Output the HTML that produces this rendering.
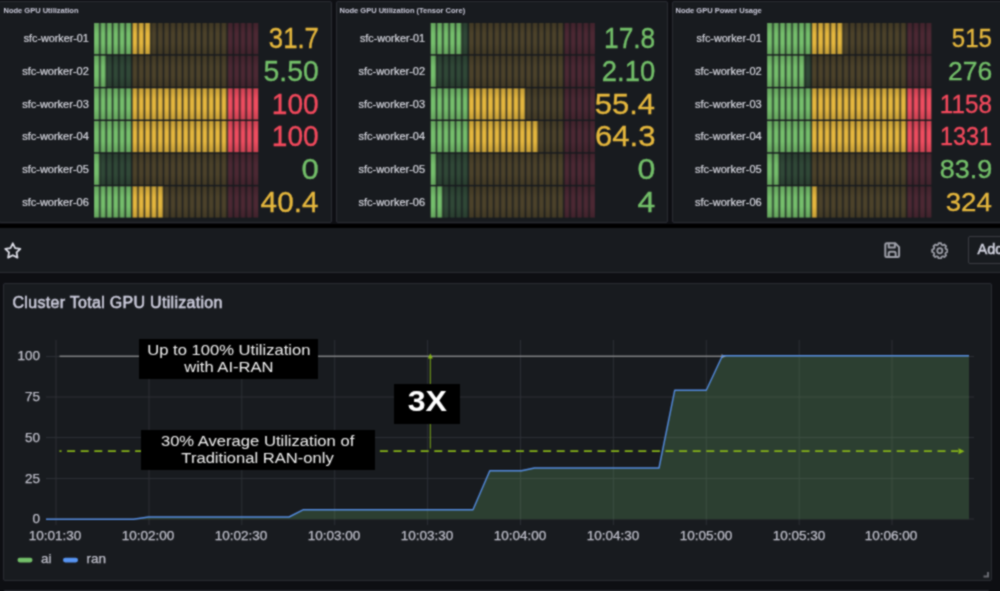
<!DOCTYPE html>
<html lang="en">
<head>
<meta charset="utf-8">
<title>GPU Utilization Dashboard</title>
<style>
*{box-sizing:border-box;margin:0;padding:0}
html,body{width:1000px;height:591px;overflow:hidden;background:#0e0f13;font-family:"Liberation Sans",sans-serif}
#root{position:relative;width:1000px;height:591px;overflow:hidden;background:#0e0f13;filter:url(#soft)}
.panel{position:absolute;background:#181b1f;border:1px solid #2a2c33;border-radius:2px}
.ptitle{position:absolute;left:3px;top:3.600px;font-size:7.5px;line-height:10px;font-weight:bold;color:#ccccdc;white-space:nowrap}
.lbl{position:absolute;left:0;height:31.3px;line-height:34px;font-size:10px;color:#d5d6de;text-align:right;white-space:nowrap;transform:scaleX(1.075);transform-origin:right center;-webkit-text-stroke:.2px #d5d6de}
.val{position:absolute;left:0;height:31.3px;line-height:34.4px;text-align:right;white-space:nowrap;transform-origin:right center;-webkit-text-stroke:.35px currentColor}
#band{position:absolute;left:0;top:223.600px;width:1000px;height:4.400px;background:#000}
#toolbar{position:absolute;left:0;top:228px;width:1000px;height:45px;background:#181b1f;border-bottom:1px solid #2a2c33}
#addbtn{position:absolute;left:968px;top:8.300px;width:60px;height:27.600px;border:1px solid #3a3c42;border-radius:2px;color:#d2d3e0;font-size:14.500px;-webkit-text-stroke:.5px #d2d3e0;line-height:25px;padding-left:8.500px}
.ann{position:absolute;background:#000;color:#f1f1f1;text-align:center;font-size:14px;line-height:17px;white-space:nowrap}
.ann span{display:inline-block;transform:scaleX(1.185)}
.ylab{position:absolute;left:0;width:40px;text-align:right;font-size:13.5px;line-height:14px;color:#c0c1cc;-webkit-text-stroke:.25px #c0c1cc}
.xlab{position:absolute;top:528.5px;width:80px;margin-left:-40px;text-align:center;font-size:13.5px;line-height:14px;color:#c0c1cc;-webkit-text-stroke:.25px #c0c1cc}
.leg{position:absolute;top:552.4px;font-size:13.5px;line-height:14px;color:#c0c1cc;-webkit-text-stroke:.25px #c0c1cc}
</style>
</head>
<body>
<svg width="0" height="0" style="position:absolute"><defs><filter id="soft" x="0" y="0" width="100%" height="100%" color-interpolation-filters="sRGB"><feConvolveMatrix order="3" kernelMatrix="1 2 1 2 6 2 1 2 1" divisor="18" edgeMode="duplicate" preserveAlpha="true"/></filter></defs></svg>
<div id="root">

<!-- top gauge panels -->
<div class="panel" style="left:-1px;top:1px;width:332.5px;height:222px">
<div class="ptitle" style="left:3.5px">Node GPU Utilization</div>
<div class="lbl" style="top:20.4px;width:88.8px">sfc-worker-01</div>
<div class="val" style="top:20.4px;width:318.86px;color:#e5b73d;font-size:29.3px;line-height:32.2px;transform:scaleX(0.877)">31.7</div>
<div class="lbl" style="top:53.07px;width:88.8px;transform:scaleX(1.1)">sfc-worker-02</div>
<div class="val" style="top:53.07px;width:318.7px;color:#73bf69;font-size:29.3px;line-height:32.2px;transform:scaleX(0.967)">5.50</div>
<div class="lbl" style="top:85.74px;width:88.8px;transform:scaleX(1.1)">sfc-worker-03</div>
<div class="val" style="top:85.74px;width:318.68px;color:#f2495c;font-size:29.3px;line-height:32.2px;transform:scaleX(0.959)">100</div>
<div class="lbl" style="top:118.41px;width:88.8px;transform:scaleX(1.1)">sfc-worker-04</div>
<div class="val" style="top:118.41px;width:318.68px;color:#f2495c;font-size:29.3px;line-height:32.2px;transform:scaleX(0.959)">100</div>
<div class="lbl" style="top:151.08px;width:88.8px;transform:scaleX(1.1)">sfc-worker-05</div>
<div class="val" style="top:151.08px;width:318.8px;color:#73bf69;font-size:29.3px;line-height:32.2px;transform:scaleX(1.059)">0</div>
<div class="lbl" style="top:183.75px;width:88.8px;transform:scaleX(1.1)">sfc-worker-06</div>
<div class="val" style="top:183.75px;width:318.46px;color:#e5b73d;font-size:29.3px;line-height:32.2px;transform:scaleX(1.014)">40.4</div>
</div>
<div class="panel" style="left:335.5px;top:1px;width:332px;height:222px">
<div class="ptitle">Node GPU Utilization (Tensor Core)</div>
<div class="lbl" style="top:20.4px;width:88.1px">sfc-worker-01</div>
<div class="val" style="top:20.4px;width:318.29px;color:#73bf69;font-size:29.3px;line-height:32.2px;transform:scaleX(0.899)">17.8</div>
<div class="lbl" style="top:53.07px;width:88.1px;transform:scaleX(1.1)">sfc-worker-02</div>
<div class="val" style="top:53.07px;width:318.27px;color:#73bf69;font-size:29.3px;line-height:32.2px;transform:scaleX(0.937)">2.10</div>
<div class="lbl" style="top:85.74px;width:88.1px;transform:scaleX(1.1)">sfc-worker-03</div>
<div class="val" style="top:85.74px;width:318.09px;color:#e5b73d;font-size:29.3px;line-height:32.2px;transform:scaleX(1.056)">55.4</div>
<div class="lbl" style="top:118.41px;width:88.1px;transform:scaleX(1.1)">sfc-worker-04</div>
<div class="val" style="top:118.41px;width:318.56px;color:#e5b73d;font-size:29.3px;line-height:32.2px;transform:scaleX(1.061)">64.3</div>
<div class="lbl" style="top:151.08px;width:88.1px;transform:scaleX(1.1)">sfc-worker-05</div>
<div class="val" style="top:151.08px;width:318.44px;color:#73bf69;font-size:29.3px;line-height:32.2px;transform:scaleX(1.095)">0</div>
<div class="lbl" style="top:183.75px;width:88.1px;transform:scaleX(1.1)">sfc-worker-06</div>
<div class="val" style="top:183.75px;width:318.11px;color:#73bf69;font-size:29.3px;line-height:32.2px;transform:scaleX(1.088)">4</div>
</div>
<div class="panel" style="left:671.5px;top:1px;width:332px;height:222px">
<div class="ptitle">Node GPU Power Usage</div>
<div class="lbl" style="top:20.4px;width:88.7px">sfc-worker-01</div>
<div class="val" style="top:20.4px;width:318.99px;color:#e5b73d;font-size:25.3px;line-height:33.4px;transform:scaleX(0.951)">515</div>
<div class="lbl" style="top:53.07px;width:88.7px;transform:scaleX(1.1)">sfc-worker-02</div>
<div class="val" style="top:53.07px;width:319.15px;color:#73bf69;font-size:25.3px;line-height:33.4px;transform:scaleX(1.046)">276</div>
<div class="lbl" style="top:85.74px;width:88.7px;transform:scaleX(1.1)">sfc-worker-03</div>
<div class="val" style="top:85.74px;width:318.98px;color:#f2495c;font-size:25.3px;line-height:33.4px;transform:scaleX(0.958)">1158</div>
<div class="lbl" style="top:118.41px;width:88.7px;transform:scaleX(1.1)">sfc-worker-04</div>
<div class="val" style="top:118.41px;width:319.17px;color:#f2495c;font-size:25.3px;line-height:33.4px;transform:scaleX(0.928)">1331</div>
<div class="lbl" style="top:151.08px;width:88.7px;transform:scaleX(1.1)">sfc-worker-05</div>
<div class="val" style="top:151.08px;width:319.25px;color:#73bf69;font-size:25.3px;line-height:33.4px;transform:scaleX(1.066)">83.9</div>
<div class="lbl" style="top:183.75px;width:88.7px;transform:scaleX(1.1)">sfc-worker-06</div>
<div class="val" style="top:183.75px;width:318.79px;color:#e5b73d;font-size:25.3px;line-height:33.4px;transform:scaleX(1.093)">324</div>
</div>

<svg style="position:absolute;left:0;top:0" width="1000" height="224" viewBox="0 0 1000 224">
<defs><linearGradient id="rs" x1="0" y1="0" x2="0" y2="1"><stop offset="0" stop-color="#000" stop-opacity=".14"/><stop offset=".35" stop-color="#000" stop-opacity="0"/><stop offset=".65" stop-color="#000" stop-opacity="0"/><stop offset="1" stop-color="#000" stop-opacity=".14"/></linearGradient></defs>
<rect x="94.1" y="23" width="38.16" height="31.2" fill="#75bf6c"/>
<rect x="132.26" y="23" width="19.08" height="31.2" fill="#e5b73e"/>
<rect x="151.34" y="23" width="76.32" height="31.2" fill="#4c422a"/>
<rect x="227.66" y="23" width="30.6" height="31.2" fill="#4c2833"/>
<rect x="94.1" y="55.67" width="12.72" height="31.2" fill="#75bf6c"/>
<rect x="106.82" y="55.67" width="25.44" height="31.2" fill="#304837"/>
<rect x="132.26" y="55.67" width="95.4" height="31.2" fill="#4c422a"/>
<rect x="227.66" y="55.67" width="30.6" height="31.2" fill="#4c2833"/>
<rect x="94.1" y="88.34" width="38.16" height="31.2" fill="#75bf6c"/>
<rect x="132.26" y="88.34" width="95.4" height="31.2" fill="#e5b73e"/>
<rect x="227.66" y="88.34" width="30.6" height="31.2" fill="#ee4c5f"/>
<rect x="94.1" y="121.01" width="38.16" height="31.2" fill="#75bf6c"/>
<rect x="132.26" y="121.01" width="95.4" height="31.2" fill="#e5b73e"/>
<rect x="227.66" y="121.01" width="30.6" height="31.2" fill="#ee4c5f"/>
<rect x="94.1" y="153.68" width="6.36" height="31.2" fill="#75bf6c"/>
<rect x="100.46" y="153.68" width="31.8" height="31.2" fill="#304837"/>
<rect x="132.26" y="153.68" width="95.4" height="31.2" fill="#4c422a"/>
<rect x="227.66" y="153.68" width="30.6" height="31.2" fill="#4c2833"/>
<rect x="94.1" y="186.35" width="38.16" height="31.2" fill="#75bf6c"/>
<rect x="132.26" y="186.35" width="31.8" height="31.2" fill="#e5b73e"/>
<rect x="164.06" y="186.35" width="63.6" height="31.2" fill="#4c422a"/>
<rect x="227.66" y="186.35" width="30.6" height="31.2" fill="#4c2833"/>
<path d="M99.86 22V219.02M106.22 22V219.02M112.58 22V219.02M118.94 22V219.02M125.3 22V219.02M131.66 22V219.02M138.02 22V219.02M144.38 22V219.02M150.74 22V219.02M157.1 22V219.02M163.46 22V219.02M169.82 22V219.02M176.18 22V219.02M182.54 22V219.02M188.9 22V219.02M195.26 22V219.02M201.62 22V219.02M207.98 22V219.02M214.34 22V219.02M220.7 22V219.02M227.06 22V219.02M233.42 22V219.02M239.78 22V219.02M246.14 22V219.02M252.5 22V219.02" stroke="#181b1f" stroke-opacity=".22" stroke-width="3.2" fill="none"/>
<path d="M99.86 22V219.02M106.22 22V219.02M112.58 22V219.02M118.94 22V219.02M125.3 22V219.02M131.66 22V219.02M138.02 22V219.02M144.38 22V219.02M150.74 22V219.02M157.1 22V219.02M163.46 22V219.02M169.82 22V219.02M176.18 22V219.02M182.54 22V219.02M188.9 22V219.02M195.26 22V219.02M201.62 22V219.02M207.98 22V219.02M214.34 22V219.02M220.7 22V219.02M227.06 22V219.02M233.42 22V219.02M239.78 22V219.02M246.14 22V219.02M252.5 22V219.02" stroke="#181b1f" stroke-opacity=".72" stroke-width="1.2" fill="none"/>
<rect x="94.1" y="23" width="164.16" height="31.2" fill="url(#rs)"/>
<rect x="94.1" y="55.67" width="164.16" height="31.2" fill="url(#rs)"/>
<rect x="94.1" y="88.34" width="164.16" height="31.2" fill="url(#rs)"/>
<rect x="94.1" y="121.01" width="164.16" height="31.2" fill="url(#rs)"/>
<rect x="94.1" y="153.68" width="164.16" height="31.2" fill="url(#rs)"/>
<rect x="94.1" y="186.35" width="164.16" height="31.2" fill="url(#rs)"/>
<rect x="430.7" y="23" width="31.8" height="31.2" fill="#75bf6c"/>
<rect x="462.5" y="23" width="6.36" height="31.2" fill="#304837"/>
<rect x="468.86" y="23" width="95.4" height="31.2" fill="#4c422a"/>
<rect x="564.26" y="23" width="30.6" height="31.2" fill="#4c2833"/>
<rect x="430.7" y="55.67" width="6.36" height="31.2" fill="#75bf6c"/>
<rect x="437.06" y="55.67" width="31.8" height="31.2" fill="#304837"/>
<rect x="468.86" y="55.67" width="95.4" height="31.2" fill="#4c422a"/>
<rect x="564.26" y="55.67" width="30.6" height="31.2" fill="#4c2833"/>
<rect x="430.7" y="88.34" width="38.16" height="31.2" fill="#75bf6c"/>
<rect x="468.86" y="88.34" width="57.24" height="31.2" fill="#e5b73e"/>
<rect x="526.1" y="88.34" width="38.16" height="31.2" fill="#4c422a"/>
<rect x="564.26" y="88.34" width="30.6" height="31.2" fill="#4c2833"/>
<rect x="430.7" y="121.01" width="38.16" height="31.2" fill="#75bf6c"/>
<rect x="468.86" y="121.01" width="69.96" height="31.2" fill="#e5b73e"/>
<rect x="538.82" y="121.01" width="25.44" height="31.2" fill="#4c422a"/>
<rect x="564.26" y="121.01" width="30.6" height="31.2" fill="#4c2833"/>
<rect x="430.7" y="153.68" width="6.36" height="31.2" fill="#75bf6c"/>
<rect x="437.06" y="153.68" width="31.8" height="31.2" fill="#304837"/>
<rect x="468.86" y="153.68" width="95.4" height="31.2" fill="#4c422a"/>
<rect x="564.26" y="153.68" width="30.6" height="31.2" fill="#4c2833"/>
<rect x="430.7" y="186.35" width="12.72" height="31.2" fill="#75bf6c"/>
<rect x="443.42" y="186.35" width="25.44" height="31.2" fill="#304837"/>
<rect x="468.86" y="186.35" width="95.4" height="31.2" fill="#4c422a"/>
<rect x="564.26" y="186.35" width="30.6" height="31.2" fill="#4c2833"/>
<path d="M436.46 22V219.02M442.82 22V219.02M449.18 22V219.02M455.54 22V219.02M461.9 22V219.02M468.26 22V219.02M474.62 22V219.02M480.98 22V219.02M487.34 22V219.02M493.7 22V219.02M500.06 22V219.02M506.42 22V219.02M512.78 22V219.02M519.14 22V219.02M525.5 22V219.02M531.86 22V219.02M538.22 22V219.02M544.58 22V219.02M550.94 22V219.02M557.3 22V219.02M563.66 22V219.02M570.02 22V219.02M576.38 22V219.02M582.74 22V219.02M589.1 22V219.02" stroke="#181b1f" stroke-opacity=".22" stroke-width="3.2" fill="none"/>
<path d="M436.46 22V219.02M442.82 22V219.02M449.18 22V219.02M455.54 22V219.02M461.9 22V219.02M468.26 22V219.02M474.62 22V219.02M480.98 22V219.02M487.34 22V219.02M493.7 22V219.02M500.06 22V219.02M506.42 22V219.02M512.78 22V219.02M519.14 22V219.02M525.5 22V219.02M531.86 22V219.02M538.22 22V219.02M544.58 22V219.02M550.94 22V219.02M557.3 22V219.02M563.66 22V219.02M570.02 22V219.02M576.38 22V219.02M582.74 22V219.02M589.1 22V219.02" stroke="#181b1f" stroke-opacity=".72" stroke-width="1.2" fill="none"/>
<rect x="430.7" y="23" width="164.16" height="31.2" fill="url(#rs)"/>
<rect x="430.7" y="55.67" width="164.16" height="31.2" fill="url(#rs)"/>
<rect x="430.7" y="88.34" width="164.16" height="31.2" fill="url(#rs)"/>
<rect x="430.7" y="121.01" width="164.16" height="31.2" fill="url(#rs)"/>
<rect x="430.7" y="153.68" width="164.16" height="31.2" fill="url(#rs)"/>
<rect x="430.7" y="186.35" width="164.16" height="31.2" fill="url(#rs)"/>
<rect x="767.2" y="23" width="44.52" height="31.2" fill="#75bf6c"/>
<rect x="811.72" y="23" width="31.8" height="31.2" fill="#e5b73e"/>
<rect x="843.52" y="23" width="63.6" height="31.2" fill="#4c422a"/>
<rect x="907.12" y="23" width="24.24" height="31.2" fill="#4c2833"/>
<rect x="767.2" y="55.67" width="38.16" height="31.2" fill="#75bf6c"/>
<rect x="805.36" y="55.67" width="6.36" height="31.2" fill="#304837"/>
<rect x="811.72" y="55.67" width="95.4" height="31.2" fill="#4c422a"/>
<rect x="907.12" y="55.67" width="24.24" height="31.2" fill="#4c2833"/>
<rect x="767.2" y="88.34" width="44.52" height="31.2" fill="#75bf6c"/>
<rect x="811.72" y="88.34" width="95.4" height="31.2" fill="#e5b73e"/>
<rect x="907.12" y="88.34" width="24.24" height="31.2" fill="#ee4c5f"/>
<rect x="767.2" y="121.01" width="44.52" height="31.2" fill="#75bf6c"/>
<rect x="811.72" y="121.01" width="95.4" height="31.2" fill="#e5b73e"/>
<rect x="907.12" y="121.01" width="24.24" height="31.2" fill="#ee4c5f"/>
<rect x="767.2" y="153.68" width="12.72" height="31.2" fill="#75bf6c"/>
<rect x="779.92" y="153.68" width="31.8" height="31.2" fill="#304837"/>
<rect x="811.72" y="153.68" width="95.4" height="31.2" fill="#4c422a"/>
<rect x="907.12" y="153.68" width="24.24" height="31.2" fill="#4c2833"/>
<rect x="767.2" y="186.35" width="44.52" height="31.2" fill="#75bf6c"/>
<rect x="811.72" y="186.35" width="6.36" height="31.2" fill="#e5b73e"/>
<rect x="818.08" y="186.35" width="89.04" height="31.2" fill="#4c422a"/>
<rect x="907.12" y="186.35" width="24.24" height="31.2" fill="#4c2833"/>
<path d="M772.96 22V219.02M779.32 22V219.02M785.68 22V219.02M792.04 22V219.02M798.4 22V219.02M804.76 22V219.02M811.12 22V219.02M817.48 22V219.02M823.84 22V219.02M830.2 22V219.02M836.56 22V219.02M842.92 22V219.02M849.28 22V219.02M855.64 22V219.02M862 22V219.02M868.36 22V219.02M874.72 22V219.02M881.08 22V219.02M887.44 22V219.02M893.8 22V219.02M900.16 22V219.02M906.52 22V219.02M912.88 22V219.02M919.24 22V219.02M925.6 22V219.02" stroke="#181b1f" stroke-opacity=".22" stroke-width="3.2" fill="none"/>
<path d="M772.96 22V219.02M779.32 22V219.02M785.68 22V219.02M792.04 22V219.02M798.4 22V219.02M804.76 22V219.02M811.12 22V219.02M817.48 22V219.02M823.84 22V219.02M830.2 22V219.02M836.56 22V219.02M842.92 22V219.02M849.28 22V219.02M855.64 22V219.02M862 22V219.02M868.36 22V219.02M874.72 22V219.02M881.08 22V219.02M887.44 22V219.02M893.8 22V219.02M900.16 22V219.02M906.52 22V219.02M912.88 22V219.02M919.24 22V219.02M925.6 22V219.02" stroke="#181b1f" stroke-opacity=".72" stroke-width="1.2" fill="none"/>
<rect x="767.2" y="23" width="164.16" height="31.2" fill="url(#rs)"/>
<rect x="767.2" y="55.67" width="164.16" height="31.2" fill="url(#rs)"/>
<rect x="767.2" y="88.34" width="164.16" height="31.2" fill="url(#rs)"/>
<rect x="767.2" y="121.01" width="164.16" height="31.2" fill="url(#rs)"/>
<rect x="767.2" y="153.68" width="164.16" height="31.2" fill="url(#rs)"/>
<rect x="767.2" y="186.35" width="164.16" height="31.2" fill="url(#rs)"/>
</svg>

<div id="band"></div>

<!-- toolbar -->
<div id="toolbar">
<svg style="position:absolute;left:2.700px;top:12.800px" width="19.600" height="19.600" viewBox="0 0 24 24" fill="none" stroke="#dcdde6" stroke-width="2.200" stroke-linejoin="round"><path d="M12 2.8l2.85 5.8 6.4.93-4.63 4.5 1.1 6.37L12 17.4l-5.72 3 1.1-6.37-4.63-4.5 6.4-.93z"/></svg>
<svg style="position:absolute;left:882.600px;top:13px" width="18.400" height="18.400" viewBox="0 0 24 24" fill="none" stroke="#9d9fa8" stroke-width="2.600" stroke-linejoin="round" stroke-linecap="round"><path d="M5 3h11l5 5v11a2 2 0 0 1-2 2H5a2 2 0 0 1-2-2V5a2 2 0 0 1 2-2z"/><path d="M7.500 3.500v5h8v-5"/><path d="M7.500 21v-5a2 2 0 0 1 2-2h5a2 2 0 0 1 2 2v5"/></svg>
<svg style="position:absolute;left:930.800px;top:13.500px" width="17.600" height="17.600" viewBox="0 0 24 24" fill="none" stroke="#9d9fa8" stroke-width="2.400" stroke-linejoin="round"><circle cx="12" cy="12" r="3.500"/><path d="M10.34 1.53L13.66 1.53L14.30 3.71L16.23 4.51L18.23 3.42L20.58 5.77L19.49 7.77L20.29 9.70L22.47 10.34L22.47 13.66L20.29 14.30L19.49 16.23L20.58 18.23L18.23 20.58L16.23 19.49L14.30 20.29L13.66 22.47L10.34 22.47L9.70 20.29L7.77 19.49L5.77 20.58L3.42 18.23L4.51 16.23L3.71 14.30L1.53 13.66L1.53 10.34L3.71 9.70L4.51 7.77L3.42 5.77L5.77 3.42L7.77 4.51L9.70 3.71z"/></svg>
<div id="addbtn">Add</div>
</div>

<!-- main chart panel -->
<div class="panel" style="left:3px;top:283px;width:988.800px;height:297.500px"></div>
<div style="position:absolute;left:12.5px;top:293.5px;font-size:16px;line-height:18px;letter-spacing:.3px;-webkit-text-stroke:.55px #ccccdc;color:#ccccdc;white-space:nowrap" id="ctitle">Cluster Total GPU Utilization</div>

<svg style="position:absolute;left:0;top:0" width="1000" height="591" viewBox="0 0 1000 591">
<!-- grid -->
<g stroke="#2c2f35" stroke-width="1" fill="none">
<path d="M46 356.500H974M46 397H974M46 437.500H974M46 478.500H974M46 519H974"/>
<path d="M56 340V525M149 340V525M241.800 340V525M334.700 340V525M427.600 340V525M520.500 340V525M613.400 340V525M706.300 340V525M799.200 340V525M892 340V525"/>
</g>
<!-- area fill -->
<path d="M46 519.300H133.500L148.500 517H289L303.500 509.700H473L489.800 470.700H521.500L534.500 468H659L674.700 390.300H706.300L722.400 355.800H969V519.300z" fill="#2c3f31"/>
<clipPath id="fc"><path d="M46 519.300H133.500L148.500 517H289L303.500 509.700H473L489.800 470.700H521.500L534.500 468H659L674.700 390.300H706.300L722.400 355.800H969V519.300z"/></clipPath>
<g stroke="#3c4e41" stroke-width="1" fill="none" clip-path="url(#fc)">
<path d="M46 356.500H974M46 397H974M46 437.500H974M46 478.500H974"/>
<path d="M149 340V525M241.800 340V525M334.700 340V525M427.600 340V525M520.500 340V525M613.400 340V525M706.300 340V525M799.200 340V525M892 340V525"/>
</g>
<!-- white 100% line -->
<path d="M59.500 356.200H722" stroke="#adadad" stroke-width="1" fill="none"/>
<path d="M726 356.200l-4.500-2v4z" fill="#aaa"/>
<!-- dashed 30% line -->
<path d="M59.500 451.200H958" stroke="#86b418" stroke-width="1.700" stroke-dasharray="8 5.600" stroke-dashoffset="6" fill="none"/>
<path d="M964.500 451.200l-6-3v6z" fill="#86b418"/>
<!-- vertical 3x arrow -->
<path d="M430.300 358V448.500" stroke="#7fab18" stroke-width="1" fill="none"/>
<path d="M430.300 353.500l-2.500 5h5z" fill="#86b418"/>
<!-- series line -->
<path d="M46 519.300H133.500L148.500 517H289L303.500 509.700H473L489.800 470.700H521.500L534.500 468H659L674.700 390.300H706.300L722.400 355.800H969" stroke="#548ce0" stroke-width="1.400" fill="none" stroke-linejoin="round"/>
<!-- legend swatches -->
<rect x="17.500" y="557.800" width="15" height="4.600" rx="2.300" fill="#73bf69"/>
<rect x="63" y="557.800" width="15" height="4.600" rx="2.300" fill="#5794f2"/>
<!-- resize handle -->
<path d="M983.500 576.500H988V572" stroke="#686a71" stroke-width="2" fill="none"/>
</svg>

<div class="ylab" style="top:349px">100</div>
<div class="ylab" style="top:390px">75</div>
<div class="ylab" style="top:430.500px">50</div>
<div class="ylab" style="top:471.500px">25</div>
<div class="ylab" style="top:512px">0</div>

<div class="xlab" style="left:55px">10:01:30</div>
<div class="xlab" style="left:148px">10:02:00</div>
<div class="xlab" style="left:241px">10:02:30</div>
<div class="xlab" style="left:334px">10:03:00</div>
<div class="xlab" style="left:427px">10:03:30</div>
<div class="xlab" style="left:520px">10:04:00</div>
<div class="xlab" style="left:613px">10:04:30</div>
<div class="xlab" style="left:706px">10:05:00</div>
<div class="xlab" style="left:799px">10:05:30</div>
<div class="xlab" style="left:891px">10:06:00</div>

<div class="leg" style="left:41px">ai</div>
<div class="leg" style="left:86.500px">ran</div>

<div class="ann" style="left:139px;top:339px;width:179px;height:40px;padding-top:3px"><span>Up to 100% Utilization<br>with AI-RAN</span></div>
<div class="ann" style="left:140.500px;top:430px;width:234px;height:39.500px;padding-top:3px"><span>30% Average Utilization of<br>Traditional RAN-only</span></div>
<div class="ann" style="left:394px;top:384.400px;width:66px;height:40px;font-size:30px;font-weight:bold;line-height:34.100px;color:#fff"><span style="transform:scaleX(1.07)">3X</span></div>

<!-- next panel peeking at bottom -->
<div class="panel" style="left:3px;top:589.500px;width:987px;height:20px"></div>
</div>
</body>
</html>
